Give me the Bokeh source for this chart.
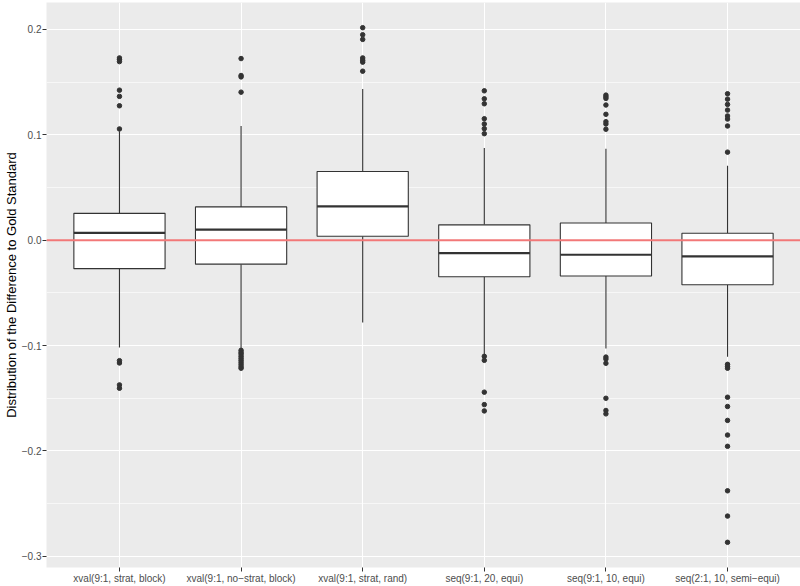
from bokeh.plotting import figure
from bokeh.models import Range1d, FixedTicker, Span, ColumnDataSource
from bokeh.embed import file_html
from bokeh.resources import INLINE

categories = ["xval(9:1, strat, block)", "xval(9:1, no\u2212strat, block)", "xval(9:1, strat, rand)",
              "seq(9:1, 20, equi)", "seq(9:1, 10, equi)", "seq(2:1, 10, semi\u2212equi)"]
q1 = [-0.027, -0.0227, 0.0038, -0.0346, -0.034, -0.0422]
median = [0.007, 0.0101, 0.0321, -0.0123, -0.0138, -0.0154]
q3 = [0.0255, 0.0316, 0.0652, 0.0146, 0.0164, 0.0066]
whisker_low = [-0.1017, -0.1033, -0.0781, -0.109, -0.1027, -0.1106]
whisker_high = [0.1035, 0.1084, 0.1434, 0.0876, 0.0867, 0.0706]
outliers = [
    [0.173, 0.1715, 0.1695, 0.1424, 0.1365, 0.1276, 0.1056, -0.1143, -0.1165, -0.1373, -0.1405],
    [0.1724, 0.1563, 0.155, 0.1405, -0.1045, -0.1065, -0.108, -0.110, -0.112, -0.114, -0.116, -0.118, -0.120, -0.1215],
    [0.2017, 0.195, 0.1906, 0.173, 0.1708, 0.169, 0.1604],
    [0.1418, 0.1342, 0.1295, 0.1153, 0.1103, 0.1059, 0.1011, -0.1102, -0.114, -0.1442, -0.156, -0.162],
    [0.1377, 0.1361, 0.1346, 0.1283, 0.1195, 0.1125, 0.1103, 0.1053, -0.1109, -0.1128, -0.1168, -0.15, -0.1616, -0.1648],
    [0.139, 0.1339, 0.1289, 0.1235, 0.1179, 0.115, 0.1084, 0.0836, -0.1178, -0.1197, -0.1215, -0.149, -0.1578,
     -0.171, -0.1849, -0.1956, -0.2378, -0.2618, -0.2867],
]
y_ticks = [-0.3, -0.2, -0.1, 0.0, 0.1, 0.2]
y_tick_labels = ["\u22120.3", "\u22120.2", "\u22120.1", "0.0", "0.1", "0.2"]
y_minor = [-0.25, -0.15, -0.05, 0.05, 0.15]
reference_value = 0.0
y_title = "Distribution of the Difference to Gold Standard"

FONT = "Liberation Sans"
y_lo, y_hi = -0.3106, 0.2256
box_width = 0.75

# positions of the discrete categories on the x scale (1..n)
pos = list(range(1, len(categories) + 1))

p = figure(width=800, height=586, output_backend="svg", toolbar_location=None,
           x_range=Range1d(0.4, len(categories) + 0.6), y_range=Range1d(y_lo, y_hi),
           min_border=0, min_border_top=2)
p.background_fill_color = "#EBEBEB"
p.border_fill_color = "white"
p.outline_line_color = None

box_src = ColumnDataSource(dict(x=pos, x0=[v - box_width / 2 for v in pos], x1=[v + box_width / 2 for v in pos],
                                q1=q1, med=median, q3=q3, lo=whisker_low, hi=whisker_high))

# whiskers
p.segment(x0="x", x1="x", y0="q3", y1="hi", source=box_src, line_color="#333333", line_width=1.1)
p.segment(x0="x", x1="x", y0="q1", y1="lo", source=box_src, line_color="#333333", line_width=1.1)
# boxes
p.vbar(x="x", bottom="q1", top="q3", width=box_width, source=box_src, fill_color="white",
       line_color="#333333", line_width=1.1)
# medians
p.segment(x0="x0", x1="x1", y0="med", y1="med", source=box_src, line_color="#333333", line_width=2.2)

# outliers
ox, oy = [], []
for xv, vals in zip(pos, outliers):
    for v in vals:
        ox.append(xv)
        oy.append(v)
p.scatter(x=ox, y=oy, size=4.5, color="#333333")

p.add_layout(Span(location=reference_value, dimension="width", line_color="#F27878", line_width=2))

# grids
p.xgrid.grid_line_color = "white"
p.xgrid.grid_line_width = 1.1
p.ygrid.grid_line_color = "white"
p.ygrid.grid_line_width = 1.1
p.ygrid.minor_grid_line_color = "white"
p.ygrid.minor_grid_line_width = 0.6

p.xaxis.ticker = FixedTicker(ticks=pos, minor_ticks=[])
p.xaxis.major_label_overrides = {xv: c for xv, c in zip(pos, categories)}
p.yaxis.ticker = FixedTicker(ticks=y_ticks, minor_ticks=y_minor)
p.yaxis.major_label_overrides = {t: l for t, l in zip(y_ticks, y_tick_labels)}

for ax in (p.xaxis[0], p.yaxis[0]):
    ax.axis_line_color = None
    ax.major_tick_line_color = "#333333"
    ax.major_tick_in = 0
    ax.major_tick_out = 4
    ax.minor_tick_line_color = None
    ax.major_label_text_color = "#4D4D4D"
    ax.major_label_text_font = FONT
    ax.major_label_text_font_size = "10px"
    ax.major_label_standoff = 1

p.yaxis.axis_label = y_title
p.yaxis.axis_label_text_font = FONT
p.yaxis.axis_label_text_font_size = "13px"
p.yaxis.axis_label_text_font_style = "normal"
p.yaxis.axis_label_text_color = "black"
p.yaxis.axis_label_standoff = 0

open("out.html", "w").write(file_html(p, INLINE))
